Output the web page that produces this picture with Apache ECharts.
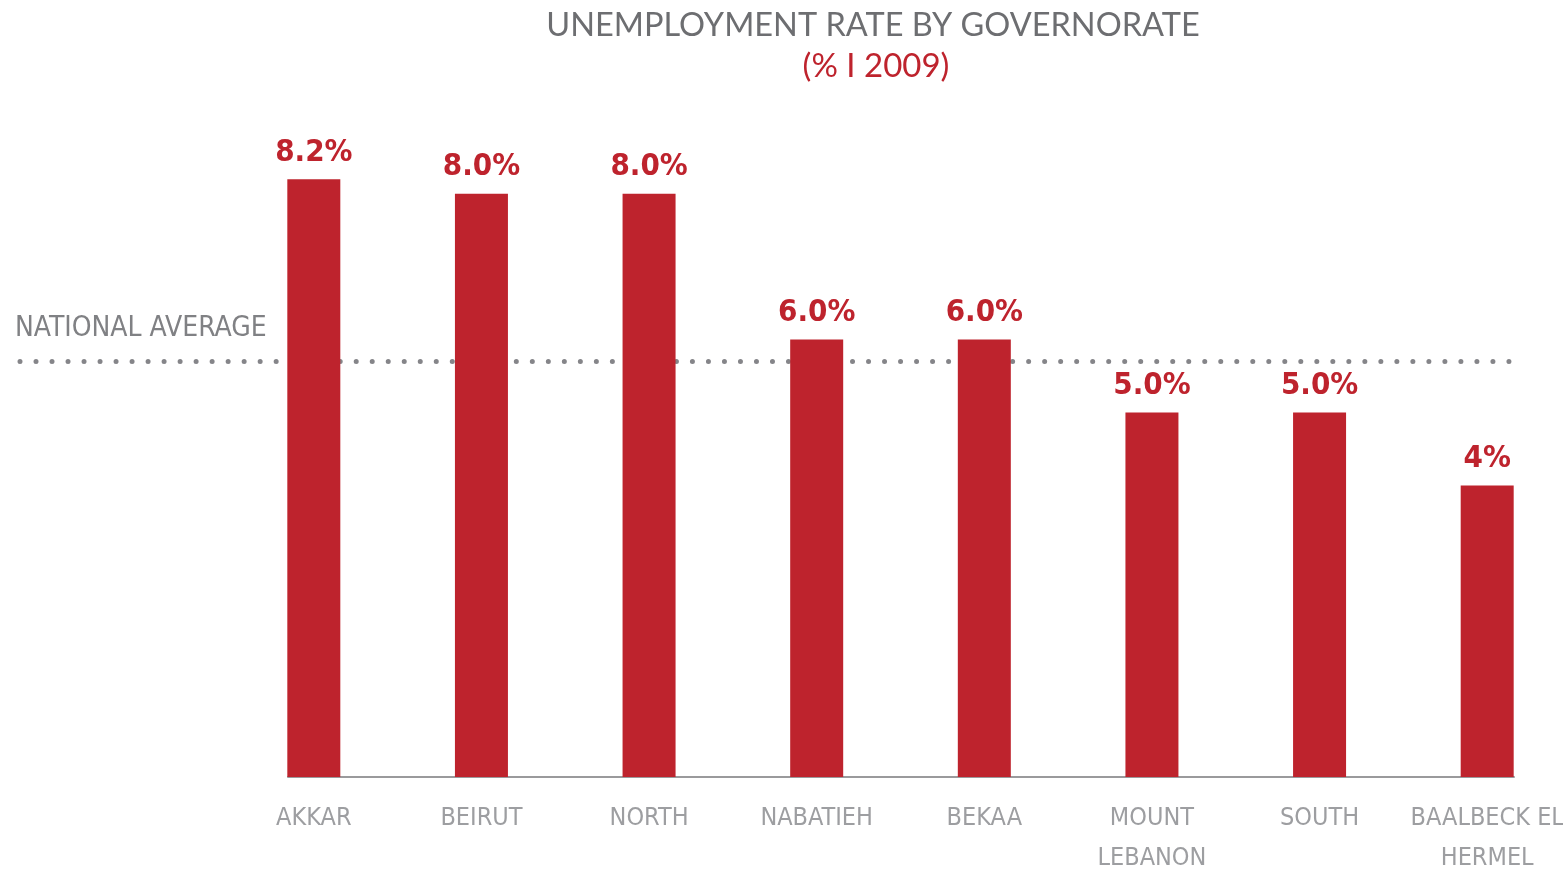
<!DOCTYPE html>
<html>
<head>
<meta charset="utf-8">
<script src="https://cdn.jsdelivr.net/npm/echarts@6/dist/echarts.min.js"></script>
<style>html,body{margin:0;padding:0;background:#fff}#c{width:1563px;height:881px}</style>
</head>
<body>
<div id="c"></div>
<script>
const categories = ['AKKAR','BEIRUT','NORTH','NABATIEH','BEKAA','MOUNT\nLEBANON','SOUTH','BAALBECK EL\nHERMEL'];
const values = [8.2, 8.0, 8.0, 6.0, 6.0, 5.0, 5.0, 4.0];
const valueLabels = ['8.2%','8.0%','8.0%','6.0%','6.0%','5.0%','5.0%','4%'];
const nationalAverage = 5.7;

const RED = '#BE232D';
const NARROW = "'Liberation Sans Narrow','DejaVu Sans Condensed',sans-serif";
const chart = echarts.init(document.getElementById('c'));
const gTop = 48, gH = 729;
chart.setOption({
  animation: false,
  title: [{
    text: 'UNEMPLOYMENT RATE BY GOVERNORATE',
    left: 868, top: 4, textAlign: 'center',
    textStyle: { fontFamily: 'Lato', fontWeight: 'normal', fontSize: 32.5, color: '#6d6e71' }
  },{
    text: '(% I 2009)',
    left: 871, top: 45, textAlign: 'center',
    textStyle: { fontFamily: 'Lato', fontWeight: 'normal', fontSize: 33, color: RED }
  }],
  grid: [
    { left: 230, width: 1341, top: gTop, height: gH, outerBoundsMode: 'none', containLabel: false },
    { left: 288, width: 1226, top: gTop, height: gH, outerBoundsMode: 'none' },
    { left: 20, width: 1496, top: gTop, height: gH, outerBoundsMode: 'none' }
  ],
  xAxis: [
    { type: 'category', gridIndex: 0, data: categories,
      axisLine: { show: false }, axisTick: { show: false },
      axisLabel: { color: '#9d9ea1', fontFamily: NARROW, fontSize: 25, lineHeight: 40, margin: 21, interval: 0 } },
    { type: 'value', gridIndex: 1, min: 0, max: 1,
      axisLine: { show: true, lineStyle: { color: '#9a9a9c', width: 2 } },
      axisTick: { show: false }, axisLabel: { show: false }, splitLine: { show: false } },
    { type: 'value', gridIndex: 2, min: 0, max: 1, show: false }
  ],
  yAxis: [
    { type: 'value', gridIndex: 0, min: 0, max: 10, show: false },
    { type: 'value', gridIndex: 1, min: 0, max: 10, show: false },
    { type: 'value', gridIndex: 2, min: 0, max: 10, show: false }
  ],
  series: [
    {
      type: 'line', xAxisIndex: 2, yAxisIndex: 2, data: [], z: 1,
      markLine: {
        silent: true, symbol: 'none', z: 1,
        lineStyle: { color: '#858589', width: 5, type: [0.01, 16], cap: 'round' },
        label: { show: true, position: 'insideStartTop', formatter: 'NATIONAL AVERAGE',
          color: '#808184', fontFamily: NARROW, fontSize: 28, distance: [-5, 19] },
        data: [{ yAxis: nationalAverage }]
      }
    },
    {
      type: 'bar', xAxisIndex: 0, yAxisIndex: 0, data: values, barWidth: 53, z: 5,
      itemStyle: { color: RED },
      label: { show: true, position: 'top', distance: 11,
        formatter: p => valueLabels[p.dataIndex],
        color: RED, fontFamily: NARROW, fontWeight: 'bold', fontSize: 31 }
    }
  ]
});
</script>
</body>
</html>
